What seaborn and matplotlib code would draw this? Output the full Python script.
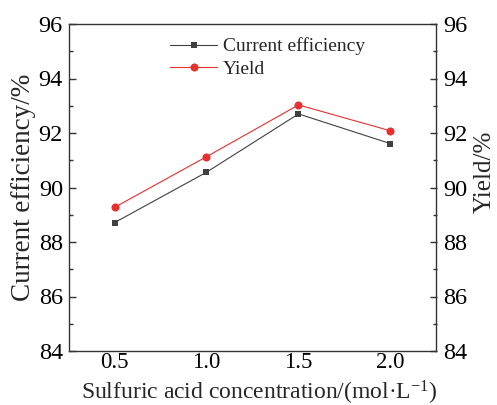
import matplotlib
matplotlib.use("Agg")
import matplotlib.pyplot as plt
from matplotlib.ticker import MultipleLocator, AutoMinorLocator
import seaborn as sns
import pandas as pd

# Data
concentration = [0.5, 1.0, 1.5, 2.0]
current_efficiency = [88.71, 90.56, 92.70, 91.61]
yield_pct = [89.27, 91.13, 93.03, 92.08]
tick_labels = ["0.5", "1.0", "1.5", "2.0"]

sns.set_theme(style="white")
plt.rcParams["font.family"] = ["Liberation Serif", "DejaVu Serif"]
plt.rcParams["mathtext.fontset"] = "custom"
plt.rcParams["mathtext.rm"] = "Liberation Serif"
plt.rcParams["mathtext.it"] = "Liberation Serif:italic"

df = pd.DataFrame({
    "c": concentration * 2,
    "v": current_efficiency + yield_pct,
    "s": ["Current efficiency"] * 4 + ["Yield"] * 4,
})

fig = plt.figure(figsize=(4.97, 4.05), dpi=100)
ax = fig.add_axes([68.5 / 497, 54 / 405, 368 / 497, 327 / 405])

sns.lineplot(data=df[df.s == "Current efficiency"], x="c", y="v", ax=ax,
             color="#404040", marker="s", markersize=5,
             markeredgewidth=0, linewidth=0.8, label="Current efficiency")
sns.lineplot(data=df[df.s == "Yield"], x="c", y="v", ax=ax,
             color="#e8302f", marker="o", markersize=5.8,
             markeredgewidth=0, linewidth=0.8, label="Yield")

ax.set_xlim(0.25, 2.25)
ax.set_ylim(84, 96)
ax.set_xticks(concentration)
ax.set_xticklabels(tick_labels)
ax.xaxis.set_minor_locator(AutoMinorLocator(2))
ax.yaxis.set_major_locator(MultipleLocator(2))
ax.yaxis.set_minor_locator(AutoMinorLocator(2))

for sp in ax.spines.values():
    sp.set_color("#333333")
    sp.set_linewidth(1.0)

ax.tick_params(axis="both", which="both", direction="in", colors="#333333",
               labelcolor="black", labelsize=17.5, width=1.0)
ax.tick_params(which="major", length=5)
ax.tick_params(which="minor", length=3)
ax.tick_params(axis="x", pad=0.5, labelsize=16.5)
ax.tick_params(axis="y", pad=4)

ax.set_xlabel("Sulfuric acid concentration/(mol·L$^{-1}$)", fontsize=17)
ax.xaxis.set_label_coords(0.519, -0.147)
ax.xaxis.label.set_va("baseline")
ax.set_ylabel("Current efficiency/%", fontsize=19.5, labelpad=1.5)

ax2 = ax.twinx()
ax2.set_ylim(84, 96)
ax2.yaxis.set_major_locator(MultipleLocator(2))
ax2.yaxis.set_minor_locator(AutoMinorLocator(2))
ax2.tick_params(axis="y", which="both", direction="in", colors="#333333",
                labelcolor="black", labelsize=17.5, width=1.0, pad=5)
ax2.tick_params(which="major", length=5)
ax2.tick_params(which="minor", length=3)
ax2.set_ylabel("Yield/%", fontsize=18)
ax2.yaxis.set_label_coords(1.10, 0.547)
for sp in ax2.spines.values():
    sp.set_visible(False)

ax.legend(loc="upper left", bbox_to_anchor=(0.24, 1.0), frameon=False,
          fontsize=14, handlelength=2.4, handletextpad=0.3,
          labelspacing=0.25, borderaxespad=0.3)

fig.savefig("out.png", dpi=100)
